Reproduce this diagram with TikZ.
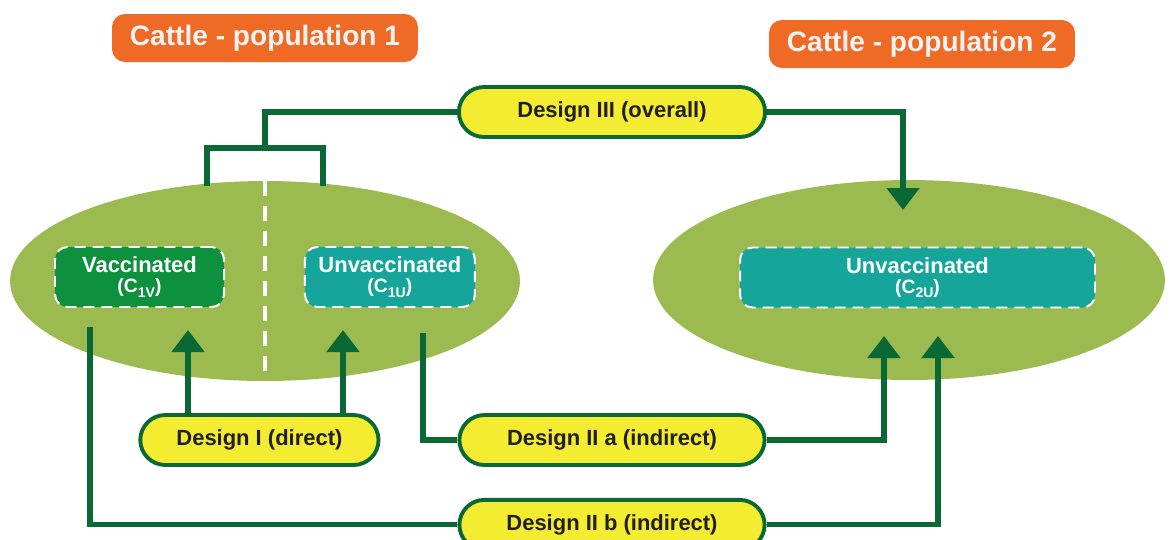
\documentclass[tikz,border=0pt]{standalone}
\usepackage{fontspec}
\setmainfont{Liberation Sans}
\usetikzlibrary{arrows.meta,
                shapes.geometric, shapes.misc,
                positioning}
\tikzset{%
    herd/.style = {ellipse, fill=mgrass, minimum width=10.2cm, minimum height=4cm,
                   inner sep=0pt},
        cohort/.style = {rectangle, rounded corners=2.5mm, draw=white, dash pattern=on 2.2mm off 1.4mm,
                       line width=1.1pt, text=white, minimum height=1.2cm, align=center,
                       font=\bfseries\fontsize{12.5}{11.5}\selectfont},
        design/.style = {rounded rectangle, draw=mdark, line width=2.2pt, fill=myellow,
                       text=mtext, minimum height=1cm, font=\bfseries\fontsize{12.5}{14}\selectfont},
        herdlabel/.style = {rectangle, rounded corners=2.6mm, fill=morange, text=mwhite,
                       minimum width=6.12cm, minimum height=.96cm,
                       font=\bfseries\fontsize{16}{18}\selectfont},
        link/.style = {draw=mdark, line width=2.9pt},
        linkarrow/.style = {link, -{Triangle[width=6.4mm,length=4.4mm]}}
        }
\definecolor{mgrass}{RGB}{155,187,80}
\definecolor{mvacc}{RGB}{14,145,63}
\definecolor{mteal}{RGB}{22,165,155}
\definecolor{mdark}{RGB}{10,104,52}
\definecolor{myellow}{RGB}{243,236,49}
\definecolor{morange}{RGB}{238,106,37}
\definecolor{mtext}{RGB}{35,31,32}
\definecolor{mwhite}{RGB}{242,242,242}
\newcommand{\subline}[1]{{\fontsize{11}{11.5}\selectfont (C\raisebox{-2.5pt}{\fontsize{8}{9}\selectfont #1})}}

\begin{document}
\begin{tikzpicture}[x=.02cm, y=-.02cm
                        ]
\useasboundingbox (0,0) rectangle (1172,539);
\node [herdlabel] (title1) at (265,38) {Cattle - population 1};
\node [herdlabel] (title2) at (922,44) {Cattle - population 2};
\node [herd] (pop1) at (265,281) {};
\node [herd, minimum width=10.24cm] (pop2) at (909,280) {};
\node [cohort, fill=mvacc, minimum width=3.38cm] (c1v) at (139.5,277) {Vaccinated\\\subline{1V}};
\node [cohort, fill=mteal, minimum width=3.4cm, right=1.58cm of c1v] (c1u) {Unvaccinated\\\subline{1U}};
\node [cohort, fill=mteal, minimum width=7.1cm] (c2u) at (917.5,277.5) {Unvaccinated\\\subline{2U}};
\draw [white, line width=2.6pt, dash pattern=on 3mm off 2mm] (pop1.north) -- (pop1.south);
% connectors
\coordinate (brk) at (265,148);
\coordinate (top1v) at (207,186);
\coordinate (top1u) at (323,186);
\coordinate (in2top) at (903,210);
\coordinate (in1v) at (188,330);
\coordinate (in1u) at (343,330);
\coordinate (out1u) at (423,333);
\coordinate (out1v) at (90,327);
\coordinate (in2a) at (884,336);
\coordinate (in2b) at (938,336);
\node [design, minimum width=6.36cm] (d3) at (612,112) {Design III (overall)};
\node [design, minimum width=6.34cm] (d2a) at (612,440) {Design II a (indirect)};
\node [design, minimum width=5cm, left=1.54cm of d2a] (d1) {Design I (direct)};
\node [design, minimum width=6.34cm, below=.62cm of d2a] (d2b) {Design II b (indirect)};
\draw [link] (top1v) |- (brk) -| (top1u);
\draw [link] (d3.west) -| (brk);
\draw [linkarrow] (d3.east) -| (in2top);
\draw [linkarrow] (d1.north -| in1v) -- (in1v);
\draw [linkarrow] (d1.north -| in1u) -- (in1u);
\draw [link] (d2a.west) -| (out1u);
\draw [linkarrow] (d2a.east) -| (in2a);
\draw [link] (d2b.west) -| (out1v);
\draw [linkarrow] (d2b.east) -| (in2b);
\end{tikzpicture}
\end{document}
